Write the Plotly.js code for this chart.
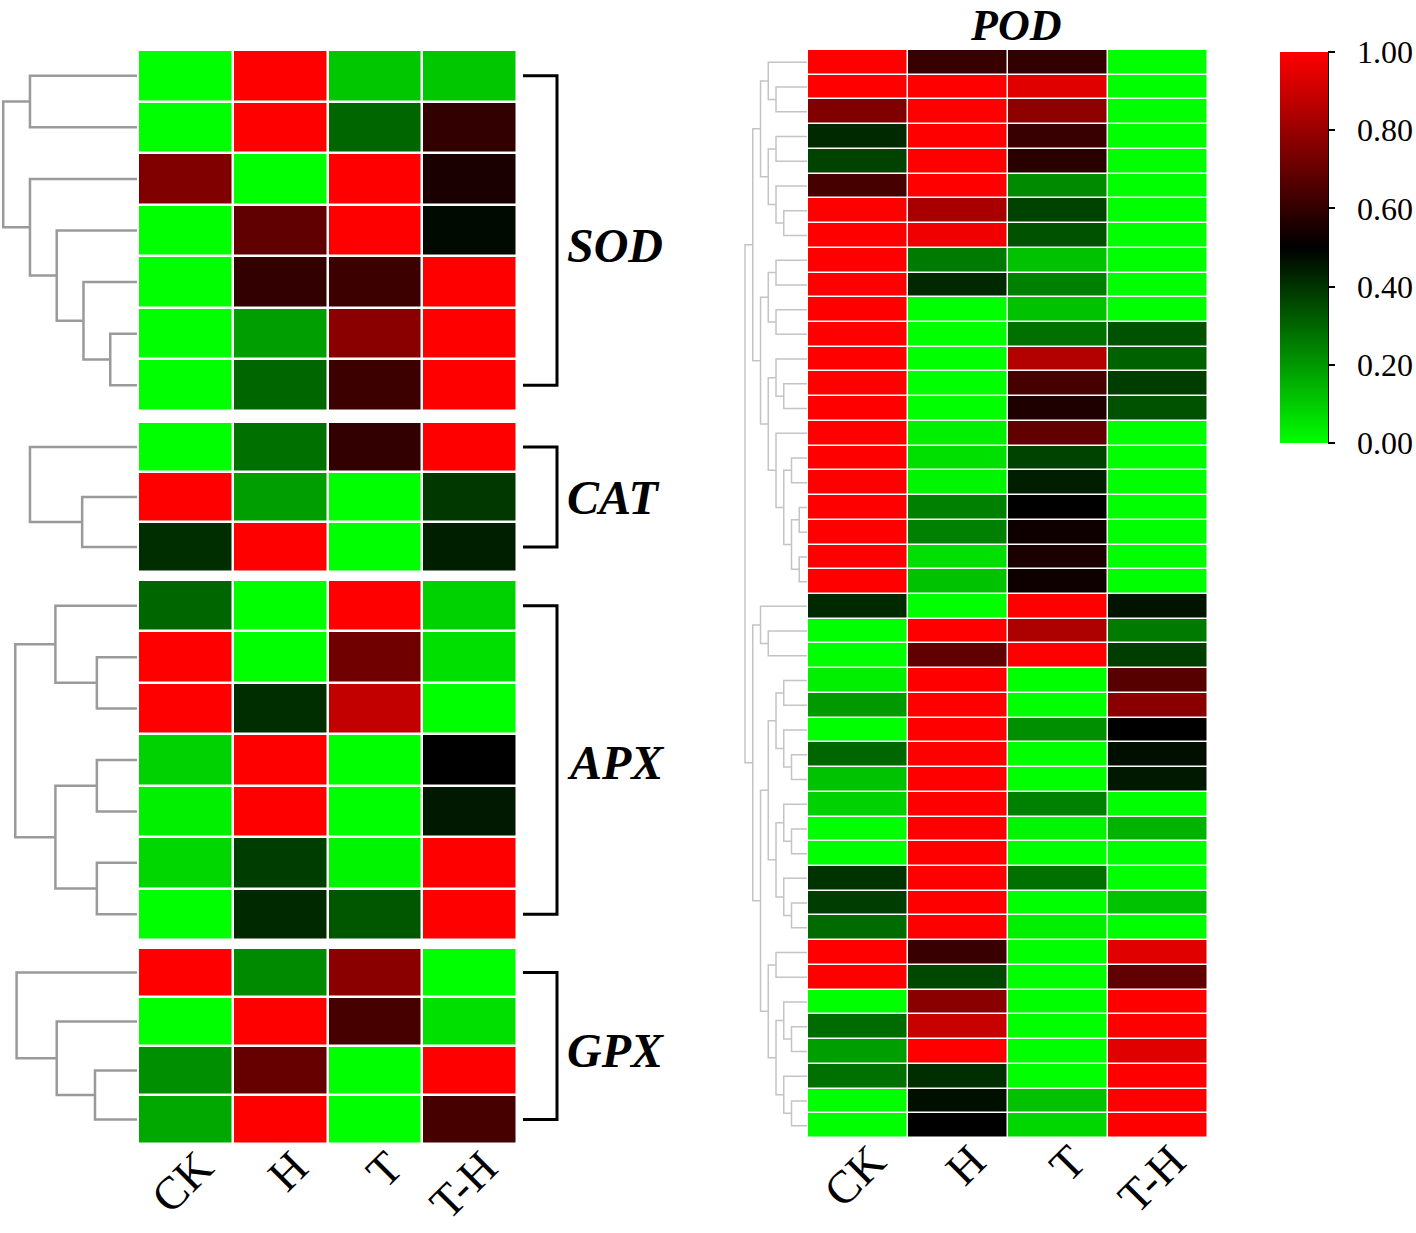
<!DOCTYPE html>
<html><head><meta charset="utf-8">
<script src="https://cdn.plot.ly/plotly-3.0.1.min.js"></script>
<style>html,body{margin:0;padding:0;background:#fff}</style>
</head><body>
<div id="chart" style="width:1416px;height:1233px"></div>
<script>
// ---------------- data ----------------
const treatments = ['CK', 'H', 'T', 'T-H'];

// rows: [CK, H, T, T-H]  (normalised 0..1)
const sodValues = [
  [0.00, 1.00, 0.11, 0.11],
  [0.00, 1.00, 0.30, 0.60],
  [0.75, 0.00, 1.00, 0.55],
  [0.00, 0.69, 1.00, 0.48],
  [0.00, 0.60, 0.62, 1.00],
  [0.00, 0.19, 0.77, 1.00],
  [0.00, 0.30, 0.62, 1.00]
];
const catValues = [
  [0.00, 0.28, 0.60, 1.00],
  [1.00, 0.19, 0.00, 0.39],
  [0.41, 1.00, 0.00, 0.44]
];
const apxValues = [
  [0.30, 0.00, 1.00, 0.09],
  [1.00, 0.00, 0.72, 0.06],
  [1.00, 0.41, 0.88, 0.00],
  [0.09, 1.00, 0.00, 0.50],
  [0.03, 1.00, 0.00, 0.45],
  [0.08, 0.38, 0.02, 1.00],
  [0.00, 0.42, 0.33, 1.00]
];
const gpxValues = [
  [1.00, 0.23, 0.77, 0.00],
  [0.00, 1.00, 0.64, 0.06],
  [0.22, 0.70, 0.00, 1.00],
  [0.17, 1.00, 0.00, 0.64]
];
const podValues = [
  [1.00, 0.61, 0.60, 0.00],
  [1.00, 1.00, 0.94, 0.00],
  [0.75, 1.00, 0.78, 0.00],
  [0.42, 1.00, 0.61, 0.00],
  [0.37, 1.00, 0.58, 0.00],
  [0.64, 1.00, 0.23, 0.00],
  [1.00, 0.83, 0.37, 0.00],
  [1.00, 0.97, 0.34, 0.00],
  [1.00, 0.26, 0.12, 0.00],
  [1.00, 0.42, 0.25, 0.00],
  [1.00, 0.00, 0.12, 0.00],
  [1.00, 0.00, 0.28, 0.34],
  [1.00, 0.00, 0.85, 0.31],
  [1.00, 0.00, 0.64, 0.38],
  [1.00, 0.00, 0.56, 0.34],
  [1.00, 0.03, 0.69, 0.00],
  [1.00, 0.06, 0.37, 0.00],
  [1.00, 0.02, 0.44, 0.00],
  [1.00, 0.25, 0.50, 0.00],
  [1.00, 0.25, 0.53, 0.00],
  [1.00, 0.06, 0.55, 0.00],
  [1.00, 0.12, 0.53, 0.00],
  [0.42, 0.00, 1.00, 0.46],
  [0.00, 1.00, 0.84, 0.26],
  [0.00, 0.69, 1.00, 0.38],
  [0.03, 1.00, 0.00, 0.67],
  [0.20, 1.00, 0.00, 0.77],
  [0.00, 1.00, 0.22, 0.50],
  [0.30, 1.00, 0.00, 0.47],
  [0.12, 1.00, 0.00, 0.45],
  [0.09, 1.00, 0.25, 0.00],
  [0.00, 1.00, 0.02, 0.15],
  [0.00, 1.00, 0.00, 0.00],
  [0.40, 1.00, 0.28, 0.00],
  [0.38, 1.00, 0.00, 0.12],
  [0.29, 1.00, 0.03, 0.00],
  [1.00, 0.61, 0.00, 0.94],
  [1.00, 0.36, 0.00, 0.69],
  [0.00, 0.77, 0.00, 1.00],
  [0.29, 0.89, 0.00, 1.00],
  [0.19, 1.00, 0.00, 0.94],
  [0.28, 0.41, 0.00, 1.00],
  [0.00, 0.47, 0.12, 1.00],
  [0.00, 0.50, 0.08, 1.00]
];

// dendrogram linkages: [childA, childB, height]; leaves 0..n-1, new nodes numbered n, n+1, ...
const sodLinks = [[0,1,4],[5,6,1],[4,8,2],[3,9,3],[2,10,4],[7,11,5]];
const catLinks = [[1,2,2.05],[0,3,4.0]];
const apxLinks = [[1,2,1.5],[0,7,3.05],[3,4,1.5],[5,6,1.5],[9,10,3.05],[8,11,4.55]];
const gpxLinks = [[2,3,1.57],[1,4,3.0],[0,5,4.5]];
const podLinks = [
  [1,2,4],[0,44,5],[3,4,4],[6,7,3],[5,47,4],[46,48,5],[45,49,6],
  [8,9,4],[10,11,4],[51,52,5],[13,14,3],[12,54,4],
  [16,17,2],[18,19,1],[20,21,1],[57,58,2],[56,59,3],[15,60,4],
  [55,61,5],[53,62,6],[50,63,7],
  [23,24,5],[22,65,6],[25,26,3],[28,29,2],[27,68,3],[67,69,4],
  [31,32,2],[30,71,3],[34,35,2],[33,73,3],[72,74,4],[70,75,5],
  [36,37,4],[39,40,2],[38,78,3],[42,43,2],[41,80,3],[79,81,4],
  [77,82,5],[76,83,6],[66,84,7],[64,85,8]
];

const groupNames = ['SOD', 'CAT', 'APX', 'GPX'];
const colorbarTicks = [0, 0.2, 0.4, 0.6, 0.8, 1.0];
const colorbarTickText = ['0.00', '0.20', '0.40', '0.60', '0.80', '1.00'];

// ---------------- helpers ----------------
const W = 1416, H = 1233;
const px = p => p / W;
const py = p => 1 - p / H;
const SERIF = 'Liberation Serif, Times New Roman, serif';
const PAD = '\u00a0\u00a0';

function dendroLines(nLeaves, links) {
  const pos = [];
  for (let i = 0; i < nLeaves; i++) pos.push({ h: 0, y: i });
  const xs = [], ys = [];
  links.forEach(([a, b, h]) => {
    const A = pos[a], B = pos[b];
    xs.push(A.h, h, h, B.h, null);
    ys.push(A.y, A.y, B.y, B.y, null);
    pos.push({ h: h, y: (A.y + B.y) / 2 });
  });
  return { xs, ys };
}
const range = n => Array.from({ length: n }, (_, i) => i);

const leftBlocks = [
  { name: 'SOD', vals: sodValues, links: sodLinks, yax: 'y',  top: 50,  bot: 411, label: 246 },
  { name: 'CAT', vals: catValues, links: catLinks, yax: 'y2', top: 422, bot: 572, label: 497 },
  { name: 'APX', vals: apxValues, links: apxLinks, yax: 'y3', top: 580, bot: 940, label: 762 },
  { name: 'GPX', vals: gpxValues, links: gpxLinks, yax: 'y4', top: 948, bot: 1144, label: 1050 }
];

const tickFont = { family: SERIF, size: 46, color: '#000' };
const traces = [];
const shapes = [];
const annotations = [];
const layout = {
  width: W, height: H,
  margin: { l: 0, r: 0, t: 0, b: 0 },
  paper_bgcolor: '#ffffff', plot_bgcolor: '#ffffff',
  showlegend: false,
  font: { family: SERIF, color: '#000' },
  coloraxis: {
    cmin: 0, cmax: 1,
    colorscale: [[0, 'rgb(0,255,0)'], [0.5, 'rgb(0,0,0)'], [1, 'rgb(255,0,0)']],
    colorbar: {
      x: px(1280), xanchor: 'left', y: py(52), yanchor: 'top',
      len: 391, lenmode: 'pixels', thickness: 48, thicknessmode: 'pixels',
      xpad: 0, ypad: 0, outlinewidth: 0,
      tickmode: 'array', tickvals: colorbarTicks,
      ticktext: colorbarTickText.map(t => PAD + t),
      ticks: 'outside', ticklen: 7, tickwidth: 2, tickcolor: '#000',
      tickfont: { family: SERIF, size: 32, color: '#000' }
    }
  },
  xaxis: {
    domain: [px(138), px(517)], anchor: 'y4', type: 'category',
    tickangle: -45, showgrid: false, zeroline: false, showline: false, ticks: '',
    tickfont: tickFont, ticklabelshift: 14, ticklabelstandoff: -14
  },
  xaxis2: { domain: [0, px(137)], range: [5.12, 0], visible: false, anchor: 'y' },
  xaxis3: {
    domain: [px(808), px(1208)], anchor: 'y5', type: 'category',
    tickangle: -45, showgrid: false, zeroline: false, showline: false, ticks: '',
    tickfont: tickFont, ticklabelshift: 14, ticklabelstandoff: -14
  },
  xaxis4: { domain: [px(742.7), px(807)], range: [8.3, 0], visible: false, anchor: 'y5' },
  yaxis5: { domain: [py(1138), py(50)], range: [43.5, -0.5], visible: false, anchor: 'x3' },
  shapes, annotations
};

leftBlocks.forEach((b, i) => {
  const n = b.vals.length;
  const key = i === 0 ? 'yaxis' : 'yaxis' + (i + 1);
  layout[key] = { domain: [py(b.bot), py(b.top)], range: [n - 0.5, -0.5], visible: false, anchor: 'x' };
  traces.push({
    type: 'heatmap', x: treatments, y: range(n), z: b.vals,
    coloraxis: 'coloraxis', xgap: 2.5, ygap: 2.5, xaxis: 'x', yaxis: b.yax,
    hovertemplate: b.name + ' %{y} %{x}: %{z}<extra></extra>'
  });
  const d = dendroLines(n, b.links);
  traces.push({
    type: 'scatter', mode: 'lines', x: d.xs, y: d.ys, xaxis: 'x2', yaxis: b.yax,
    line: { color: '#9a9a9a', width: 2.5 }, hoverinfo: 'skip', connectgaps: false
  });
  // bracket from first row centre to last row centre
  const x0 = px(523), x1 = px(557);
  shapes.push({
    type: 'path', xref: 'paper', yref: b.yax,
    path: `M ${x0},0 L ${x1},0 L ${x1},${n - 1} L ${x0},${n - 1}`,
    line: { color: '#000', width: 3 }
  });
  annotations.push({
    xref: 'paper', yref: 'paper', x: px(565), y: py(b.label), xanchor: 'left', yanchor: 'middle',
    text: '<b><i>' + groupNames[i] + '</i></b>', showarrow: false,
    font: { family: SERIF, size: 48, color: '#000' }
  });
});

// POD
traces.push({
  type: 'heatmap', x: treatments, y: range(podValues.length), z: podValues,
  coloraxis: 'coloraxis', xgap: 1.5, ygap: 1.5, xaxis: 'x3', yaxis: 'y5',
  hovertemplate: 'POD %{y} %{x}: %{z}<extra></extra>'
});
const dp = dendroLines(podValues.length, podLinks);
traces.push({
  type: 'scatter', mode: 'lines', x: dp.xs, y: dp.ys, xaxis: 'x4', yaxis: 'y5',
  line: { color: '#c4c4c4', width: 1.5 }, hoverinfo: 'skip'
});
annotations.push({
  xref: 'paper', yref: 'paper', x: px(1015), y: 1, xanchor: 'center', yanchor: 'top',
  text: '<b><i>POD</i></b>', showarrow: false, borderpad: 0,
  font: { family: SERIF, size: 44, color: '#000' }
});
// colour bar axis line
shapes.push({
  type: 'line', xref: 'paper', yref: 'paper',
  x0: px(1328), x1: px(1328), y0: py(52), y1: py(443),
  line: { color: '#000', width: 2 }
});

Plotly.newPlot('chart', traces, layout, { displayModeBar: false, staticPlot: true });
</script>
</body></html>
